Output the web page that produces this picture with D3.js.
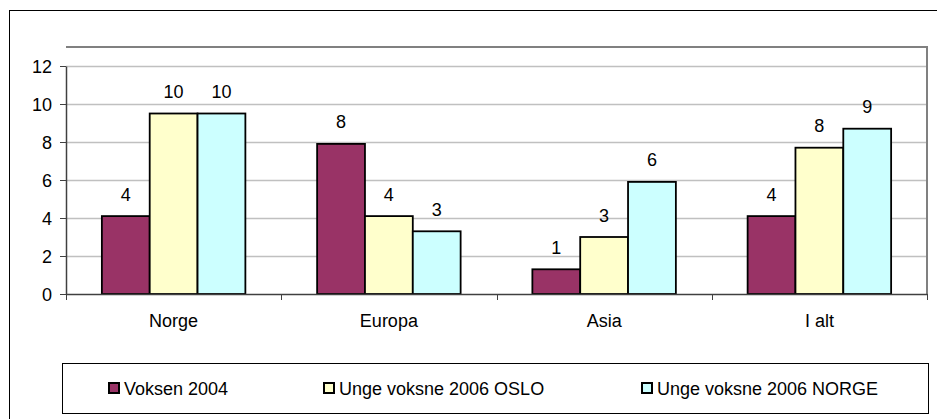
<!DOCTYPE html>
<html>
<head>
<meta charset="utf-8">
<script src="https://cdn.jsdelivr.net/npm/d3@7"></script>
<style>
  body { margin: 0; background: #fff; }
  text { font-family: "Liberation Sans", Arial, sans-serif; font-size: 18px; fill: #000; }
</style>
</head>
<body>
<div id="chart"></div>
<script>
var svgWidth = 937;
var svgHeight = 419;

// data
var categories = ["Norge", "Europa", "Asia", "I alt"];
var seriesNames = ["Voksen 2004", "Unge voksne 2006 OSLO", "Unge voksne 2006 NORGE"];
var voksen2004 = [4.1, 7.9, 1.3, 4.1];
var ungeOslo = [9.5, 4.1, 3.0, 7.7];
var ungeNorge = [9.5, 3.3, 5.9, 8.7];
var yTicks = [0, 2, 4, 6, 8, 10, 12];
var colors = ["#993366", "#FFFFCC", "#CCFFFF"];

var seriesValues = [voksen2004, ungeOslo, ungeNorge];

var plot = { left: 66, right: 927, top: 47, bottom: 294 };

var svg = d3.select("#chart")
  .append("svg")
  .attr("width", svgWidth)
  .attr("height", svgHeight);

// outer chart border (runs off the right and bottom edges)
svg.append("rect")
  .attr("x", 9.5)
  .attr("y", 10.5)
  .attr("width", 940)
  .attr("height", 420)
  .attr("fill", "#fff")
  .attr("stroke", "#000");

var x0 = d3.scaleBand()
  .domain(categories)
  .range([plot.left, plot.right])
  .paddingInner(0)
  .paddingOuter(0);

var x1 = d3.scaleBand()
  .domain(seriesNames)
  .range([0, x0.bandwidth()])
  .paddingInner(0)
  .paddingOuter(0.75);

var y = d3.scaleLinear()
  .domain([0, 12])
  .range([plot.bottom, 66]);

// gridlines
svg.append("g")
  .selectAll("line")
  .data(yTicks.filter(function (d) { return d > 0; }))
  .enter()
  .append("line")
  .attr("x1", plot.left)
  .attr("x2", plot.right)
  .attr("y1", function (d) { return Math.round(y(d)) + 0.5; })
  .attr("y2", function (d) { return Math.round(y(d)) + 0.5; })
  .attr("stroke", "#c0c0c0")
  .attr("stroke-width", 1.5);

// plot area border (top / right)
svg.append("path")
  .attr("d", "M" + plot.left + "," + plot.top + "H" + plot.right + "V" + plot.bottom)
  .attr("fill", "none")
  .attr("stroke", "#808080")
  .attr("stroke-width", 2);

// bars
var table = [];
categories.forEach(function (c, i) {
  seriesNames.forEach(function (s, j) {
    table.push({ cat: c, series: s, value: seriesValues[j][i], color: colors[j] });
  });
});

svg.append("g")
  .selectAll("rect")
  .data(table)
  .enter()
  .append("rect")
  .attr("x", function (d) { return x0(d.cat) + x1(d.series); })
  .attr("y", function (d) { return y(d.value); })
  .attr("width", x1.bandwidth())
  .attr("height", function (d) { return plot.bottom - y(d.value); })
  .attr("fill", function (d) { return d.color; })
  .attr("stroke", "#000")
  .attr("stroke-width", 1.8);

// value labels
svg.append("g")
  .selectAll("text")
  .data(table)
  .enter()
  .append("text")
  .attr("x", function (d) { return x0(d.cat) + x1(d.series) + x1.bandwidth() / 2; })
  .attr("y", function (d) { return y(d.value) - 15.5; })
  .attr("text-anchor", "middle")
  .text(function (d) { return Math.round(d.value); });

// axes
var yAxis = d3.axisLeft(y)
  .tickValues(yTicks)
  .tickSize(6)
  .tickPadding(8)
  .tickSizeOuter(0);

var gy = svg.append("g")
  .attr("transform", "translate(" + plot.left + ",0)")
  .call(yAxis);
gy.select(".domain").attr("stroke", "#404040").attr("stroke-width", 1.5);
gy.selectAll("line").attr("stroke", "#404040");
gy.selectAll("text")
  .attr("dy", "0.35em")
  .style("font-family", "Liberation Sans, Arial, sans-serif")
  .style("font-size", "18px");

var xAxis = d3.axisBottom(x0)
  .tickSize(0)
  .tickPadding(20)
  .tickSizeOuter(0);

var gx = svg.append("g")
  .attr("transform", "translate(0," + plot.bottom + ")")
  .call(xAxis);
gx.select(".domain").attr("stroke", "#404040").attr("stroke-width", 1.5);
gx.selectAll("text")
  .style("font-family", "Liberation Sans, Arial, sans-serif")
  .style("font-size", "18px");

// category separator ticks
svg.append("g")
  .selectAll("line")
  .data(categories.concat(["end"]))
  .enter()
  .append("line")
  .attr("x1", function (d, i) { return Math.round(plot.left + i * x0.step()) + 0.5; })
  .attr("x2", function (d, i) { return Math.round(plot.left + i * x0.step()) + 0.5; })
  .attr("y1", plot.bottom)
  .attr("y2", plot.bottom + 6)
  .attr("stroke", "#404040");

// legend
svg.append("rect")
  .attr("x", 62.5)
  .attr("y", 363.5)
  .attr("width", 866)
  .attr("height", 50)
  .attr("fill", "#fff")
  .attr("stroke", "#000");

var legendX = [108, 323, 641];

var legend = svg.append("g")
  .selectAll("g")
  .data(seriesNames)
  .enter()
  .append("g")
  .attr("transform", function (d, i) { return "translate(" + legendX[i] + ",388)"; });

legend.append("rect")
  .attr("x", 1)
  .attr("y", -5)
  .attr("width", 10)
  .attr("height", 10)
  .attr("fill", function (d, i) { return colors[i]; })
  .attr("stroke", "#000")
  .attr("stroke-width", 2);

legend.append("text")
  .attr("x", 16)
  .attr("y", 6.5)
  .text(function (d) { return d; });
</script>
</body>
</html>
